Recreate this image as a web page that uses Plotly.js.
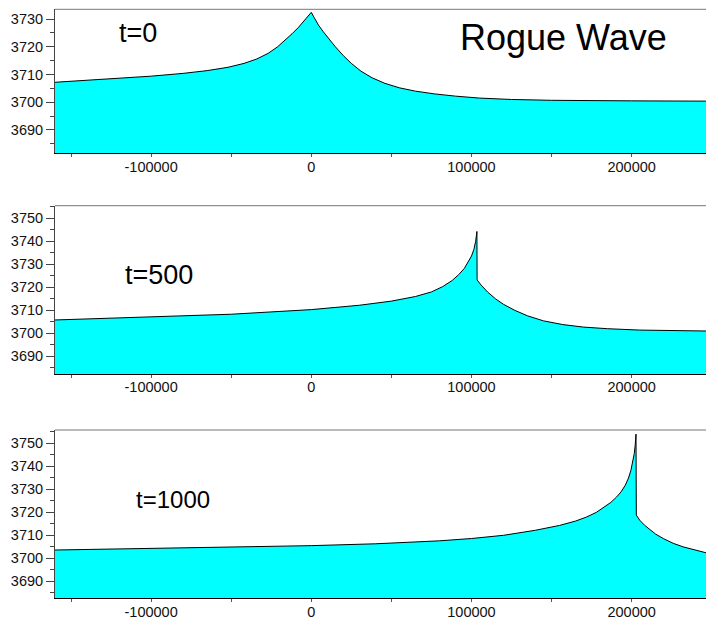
<!DOCTYPE html>
<html>
<head>
<meta charset="utf-8">
<script src="https://cdn.plot.ly/plotly-3.0.1.min.js"></script>
<style>html,body{margin:0;padding:0;background:#fff;}#chart{width:706px;height:619px;}</style>
</head>
<body>
<div id="chart"></div>
<script>
// ---- data ----
const xT0 = [-160000,-130000,-100000,-80000,-65000,-52000,-42000,-34000,-27000,-21000,-16000,-12000,-8000,-5000,-2500,0,2000,4500,7500,11000,15000,20000,25000,31000,38000,46000,55000,65000,77000,90000,105000,125000,150000,200000,246400];
const yT0 = [3707.2,3708.2,3709.4,3710.4,3711.4,3712.6,3714.0,3715.6,3717.6,3720.0,3722.5,3724.7,3727.0,3728.9,3730.6,3732.4,3730.3,3727.8,3725.4,3722.8,3720.0,3716.8,3714.0,3711.2,3708.8,3706.8,3705.2,3704.0,3703.0,3702.2,3701.5,3701.0,3700.7,3700.5,3700.4];

const xT500 = [-160000,-100000,-50000,0,30000,50000,65000,75000,82000,88000,92000,95500,98000,100000,101500,102600,103400,103500,106000,110000,115000,120000,127000,135000,145000,157000,170000,185000,205000,225000,246400];
const yT500 = [3705.8,3707.0,3708.3,3710.3,3712.2,3714.0,3716.0,3718.0,3720.3,3723.0,3725.5,3728.2,3731.0,3733.6,3736.5,3740.0,3744.3,3723.2,3721.0,3718.0,3715.0,3712.6,3710.0,3707.6,3705.4,3703.8,3702.7,3702.0,3701.4,3701.1,3701.0];

const xT1000 = [-160000,-100000,-50000,0,40000,80000,100000,120000,140000,155000,165000,172000,178000,183000,187000,190500,193500,196000,198000,199500,200700,201600,202200,202700,202900,205000,208000,211400,215000,220000,226000,232000,239000,246400];
const yT1000 = [3703.6,3704.2,3704.8,3705.5,3706.3,3707.6,3708.6,3710.0,3712.2,3714.3,3716.2,3718.0,3720.0,3722.2,3724.3,3726.6,3729.0,3731.8,3734.9,3738.2,3741.8,3745.5,3749.2,3754.0,3718.8,3716.6,3714.4,3712.3,3710.5,3708.5,3706.5,3705.0,3703.6,3702.4];

const xTickVals = [-100000, 0, 100000, 200000];
const xTickText = ["-100000", "0", "100000", "200000"];
const yTicks1 = [3690, 3700, 3710, 3720, 3730];
const yTicks23 = [3690, 3700, 3710, 3720, 3730, 3740, 3750];
const panelLabels = ["t=0", "t=500", "t=1000"];
const chartTitle = "Rogue Wave";

// ---- styling ----
const FONT = "Liberation Sans, Arial, Helvetica, sans-serif";
const fillColor = "#00FFFF";

function trace(x, y, xa, ya) {
  return {x: x, y: y, xaxis: xa, yaxis: ya, type: "scatter", mode: "lines",
          line: {color: "#000", width: 1}, fill: "tozeroy", fillcolor: fillColor,
          hoverinfo: "skip", showlegend: false};
}

const data = [
  trace(xT0, yT0, "x", "y"),
  trace(xT500, yT500, "x2", "y2"),
  trace(xT1000, yT1000, "x3", "y3")
];

const H = 619;
function dom(top, bottom) { return [1 - bottom / H, 1 - top / H]; }

function xAxis(anchor) {
  return {anchor: anchor, domain: [0, 1], range: [-160000, 246400],
          tickmode: "array", tickvals: xTickVals, ticktext: xTickText,
          ticks: "",
          minor: {dtick: 50000, tick0: 0, ticks: "outside", ticklen: 3, tickcolor: "#555", tickwidth: 1},
          showline: true, linecolor: "#000", linewidth: 1, showgrid: false, zeroline: false,
          tickfont: {family: FONT, size: 14.5, color: "#111"}, fixedrange: true};
}
function yAxis(anchor, d, range, ticks) {
  return {anchor: anchor, domain: d, range: range,
          tickmode: "array", tickvals: ticks, ticktext: ticks.map(String),
          ticks: "outside", ticklen: 8, tickcolor: "#444", tickwidth: 1,
          minor: {dtick: 5, tick0: 3690, ticks: "outside", ticklen: 4, tickcolor: "#444"},
          showline: true, linecolor: "#444", linewidth: 1, showgrid: false, zeroline: false,
          tickfont: {family: FONT, size: 14.5, color: "#111"}, fixedrange: true};
}

const d1 = dom(9.3, 153.3), d2 = dom(205.7, 374), d3 = dom(430, 598.3);

function topLine(xa, ya) {
  return {type: "line", xref: xa + " domain", yref: ya + " domain", x0: 0, x1: 1, y0: 1, y1: 1,
          line: {color: "#777", width: 1}};
}

function ann(text, xpx, ypx, size) {
  return {text: text, xref: "paper", yref: "paper", x: (xpx - 55) / 651, y: 1 - ypx / H,
          xanchor: "center", yanchor: "middle", showarrow: false,
          font: {family: FONT, size: size, color: "#000"}};
}

const layout = {
  width: 706, height: 619,
  margin: {l: 55, r: 0, t: 0, b: 0, pad: 0},
  paper_bgcolor: "#fff", plot_bgcolor: "#fff",
  showlegend: false,
  xaxis: xAxis("y"), yaxis: yAxis("x", d1, [3681.6, 3733.5], yTicks1),
  xaxis2: xAxis("y2"), yaxis2: yAxis("x2", d2, [3682.3, 3755.5], yTicks23),
  xaxis3: xAxis("y3"), yaxis3: yAxis("x3", d3, [3682.6, 3755.8], yTicks23),
  shapes: [topLine("x", "y"), topLine("x2", "y2"), topLine("x3", "y3")],
  annotations: [
    ann(panelLabels[0], 137.5, 33, 27),
    ann(chartTitle, 563, 37, 36),
    ann(panelLabels[1], 158.5, 275, 27),
    ann(panelLabels[2], 173, 500, 24)
  ]
};

Plotly.newPlot("chart", data, layout, {displayModeBar: false, staticPlot: true});
</script>
</body>
</html>
